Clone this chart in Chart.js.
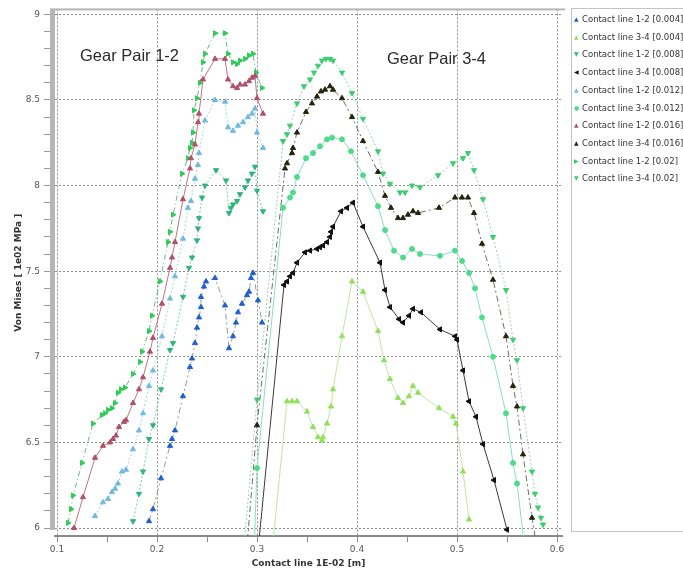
<!DOCTYPE html>
<html>
<head>
<meta charset="utf-8">
<title>Von Mises along contact line</title>
<script src="https://cdn.jsdelivr.net/npm/chart.js@4.4.0/dist/chart.umd.min.js"></script>
<style>
  html, body { margin: 0; padding: 0; background: #fff; }
  #wrap { position: relative; width: 683px; height: 574px; overflow: hidden; }
  #chart { position: absolute; left: 0; top: 0; }
  .note { position: absolute; font: 16.5px "Liberation Sans", Arial, sans-serif; color: #2a2a2a; white-space: nowrap; line-height: 18px; }
  #legend { position: absolute; left: 571px; top: 8px; width: 120px; height: 524px; border: 1px solid #c4c4c4; box-sizing: border-box; }
  #legend div { position: absolute; left: 2px; font: 8.5px "DejaVu Sans", sans-serif; color: #333; white-space: nowrap; line-height: 10px; }
  #legend span { display: inline-block; width: 8px; font-size: 6px; vertical-align: 1px; }
</style>
</head>
<body>
<div id="wrap">
  <canvas id="chart" width="683" height="574"></canvas>
  <div class="note" style="left:80px; top:46px;">Gear Pair 1-2</div>
  <div class="note" style="left:387px; top:49px;">Gear Pair 3-4</div>
  <div id="legend"></div>
</div>
<script>
// axis ticks
var xMajorTicks = [0.1, 0.2, 0.3, 0.4, 0.5, 0.6];
var xTickLabels = ['0.1', '0.2', '0.3', '0.4', '0.5', '0.6'];
var xMinorTicks = [0.15, 0.25, 0.35, 0.45, 0.55];
var yMajorTicks = [6, 6.5, 7, 7.5, 8, 8.5, 9];
var yTickLabels = ['6', '6.5', '7', '7.5', '8', '8.5', '9'];
var yMinorTicks = [6.1, 6.2, 6.3, 6.4, 6.6, 6.7, 6.8, 6.9, 7.1, 7.2, 7.3, 7.4, 7.6, 7.7, 7.8, 7.9,
                   8.1, 8.2, 8.3, 8.4, 8.6, 8.7, 8.8, 8.9];

// series (contact line position, von Mises)
var x12_004 = [0.192,0.196,0.204,0.213,0.215,0.218,0.226,0.233,0.235,0.238,0.240,0.242,0.244,0.244,0.247,0.249,0.258,0.268,0.272,0.276,0.279,0.281,0.285,0.290,0.292,0.294,0.296,0.301,0.305];
var y12_004 = [6.04,6.11,6.29,6.48,6.52,6.57,6.77,6.94,6.99,7.08,7.17,7.23,7.29,7.35,7.41,7.44,7.46,7.30,7.05,7.12,7.20,7.26,7.31,7.36,7.38,7.46,7.49,7.33,7.20];

var x34_004 = [0.316,0.330,0.335,0.340,0.350,0.356,0.361,0.365,0.366,0.370,0.374,0.376,0.385,0.395,0.406,0.421,0.427,0.433,0.441,0.446,0.452,0.456,0.461,0.482,0.496,0.499,0.506,0.512];
var y34_004 = [5.92,6.74,6.74,6.74,6.68,6.59,6.53,6.51,6.53,6.61,6.71,6.81,7.12,7.44,7.38,7.15,6.98,6.87,6.76,6.73,6.77,6.83,6.79,6.70,6.65,6.61,6.33,6.05];

var x12_008 = [0.176,0.182,0.186,0.192,0.196,0.204,0.213,0.216,0.226,0.232,0.235,0.240,0.241,0.242,0.245,0.248,0.259,0.269,0.272,0.274,0.276,0.280,0.283,0.288,0.291,0.295,0.298,0.300,0.306];
var y12_008 = [6.04,6.20,6.33,6.52,6.60,6.81,7.04,7.08,7.35,7.52,7.58,7.68,7.75,7.81,7.93,8.00,8.09,8.03,7.84,7.87,7.89,7.91,7.95,7.99,8.03,8.07,8.11,7.97,7.85];

var x34_008 = [0.3015,0.327,0.330,0.333,0.336,0.340,0.348,0.353,0.360,0.363,0.366,0.370,0.373,0.374,0.376,0.384,0.390,0.396,0.406,0.423,0.428,0.433,0.442,0.446,0.452,0.456,0.464,0.483,0.498,0.500,0.506,0.512,0.519,0.526,0.537,0.550];
var y34_008 = [5.90,7.42,7.44,7.47,7.49,7.55,7.61,7.62,7.63,7.64,7.65,7.67,7.70,7.73,7.76,7.85,7.87,7.90,7.76,7.55,7.39,7.29,7.22,7.20,7.24,7.28,7.26,7.16,7.12,7.10,6.92,6.74,6.65,6.49,6.28,5.99];

var x12_012 = [0.138,0.146,0.151,0.155,0.158,0.161,0.165,0.169,0.176,0.182,0.186,0.192,0.196,0.205,0.213,0.218,0.226,0.231,0.234,0.238,0.241,0.242,0.248,0.258,0.268,0.271,0.276,0.281,0.286,0.291,0.295,0.298,0.300,0.306];
var y12_012 = [6.07,6.15,6.17,6.21,6.23,6.26,6.33,6.34,6.46,6.57,6.67,6.83,6.92,7.12,7.34,7.47,7.69,7.87,7.91,8.04,8.12,8.19,8.38,8.50,8.49,8.34,8.32,8.35,8.37,8.40,8.42,8.45,8.31,8.22];

var x34_012 = [0.2975,0.300,0.326,0.333,0.336,0.340,0.349,0.356,0.363,0.370,0.375,0.385,0.394,0.406,0.421,0.428,0.437,0.446,0.455,0.463,0.483,0.498,0.505,0.512,0.518,0.525,0.536,0.549,0.556,0.560,0.567];
var y34_012 = [5.93,6.35,7.87,7.93,7.96,8.05,8.16,8.19,8.23,8.27,8.28,8.27,8.20,8.06,7.88,7.74,7.62,7.58,7.63,7.60,7.59,7.62,7.56,7.49,7.40,7.23,7.00,6.67,6.38,6.26,5.92];

var x12_016 = [0.117,0.126,0.138,0.146,0.153,0.156,0.159,0.162,0.167,0.169,0.176,0.182,0.186,0.193,0.196,0.205,0.213,0.215,0.218,0.226,0.233,0.234,0.238,0.241,0.242,0.246,0.258,0.268,0.271,0.276,0.280,0.283,0.288,0.292,0.295,0.298,0.300,0.306];
var y12_016 = [6.00,6.18,6.41,6.48,6.50,6.52,6.54,6.59,6.62,6.63,6.73,6.81,6.88,7.03,7.11,7.31,7.52,7.58,7.67,7.92,8.10,8.16,8.24,8.37,8.42,8.62,8.74,8.74,8.62,8.58,8.57,8.59,8.59,8.61,8.63,8.64,8.51,8.42];

var x34_016 = [0.2905,0.300,0.328,0.330,0.335,0.336,0.340,0.349,0.355,0.360,0.364,0.368,0.373,0.376,0.385,0.395,0.406,0.421,0.428,0.434,0.441,0.446,0.451,0.456,0.461,0.482,0.498,0.505,0.511,0.517,0.525,0.536,0.549,0.556,0.560,0.566,0.575,0.579];
var y34_016 = [5.93,6.60,8.10,8.13,8.19,8.22,8.31,8.43,8.48,8.52,8.55,8.56,8.58,8.56,8.51,8.40,8.26,8.08,7.94,7.87,7.81,7.81,7.83,7.85,7.84,7.87,7.93,7.93,7.93,7.84,7.66,7.45,7.12,6.83,6.71,6.43,6.06,5.92];

var x12_020 = [0.111,0.114,0.116,0.125,0.136,0.145,0.148,0.151,0.155,0.158,0.161,0.164,0.168,0.176,0.183,0.185,0.192,0.195,0.203,0.211,0.213,0.216,0.225,0.231,0.233,0.235,0.236,0.237,0.240,0.243,0.246,0.248,0.258,0.268,0.271,0.276,0.280,0.283,0.288,0.292,0.296,0.299,0.305];
var y12_020 = [6.03,6.11,6.19,6.38,6.61,6.66,6.67,6.69,6.70,6.73,6.79,6.81,6.82,6.90,6.97,7.03,7.15,7.24,7.44,7.67,7.73,7.83,8.07,8.16,8.22,8.25,8.31,8.44,8.51,8.60,8.72,8.77,8.89,8.89,8.77,8.72,8.71,8.73,8.74,8.76,8.77,8.66,8.57];

var x34_020 = [0.2875,0.300,0.326,0.330,0.333,0.340,0.347,0.353,0.357,0.361,0.365,0.369,0.373,0.376,0.385,0.395,0.406,0.421,0.426,0.433,0.443,0.448,0.455,0.463,0.481,0.496,0.506,0.511,0.517,0.526,0.536,0.549,0.556,0.560,0.566,0.575,0.578,0.581,0.584,0.586];
var y34_020 = [5.93,6.75,8.26,8.30,8.35,8.48,8.58,8.62,8.66,8.70,8.73,8.74,8.74,8.73,8.66,8.54,8.39,8.20,8.07,8.01,7.96,7.96,8.00,7.99,8.06,8.13,8.16,8.19,8.09,7.92,7.70,7.39,7.10,6.98,6.70,6.33,6.20,6.12,6.06,6.02];

var seriesLabels = [
    'Contact line 1-2 [0.004]', 'Contact line 3-4 [0.004]',
    'Contact line 1-2 [0.008]', 'Contact line 3-4 [0.008]',
    'Contact line 1-2 [0.012]', 'Contact line 3-4 [0.012]',
    'Contact line 1-2 [0.016]', 'Contact line 3-4 [0.016]',
    'Contact line 1-2 [0.02]',  'Contact line 3-4 [0.02]'
];

function pts(xs, ys) {
    return xs.map(function(x, i) { return {x: x, y: ys[i]}; });
}

// marker + line look per series
var styles = [
    {data: pts(x12_004, y12_004), marker: '#1e5fcc', line: '#9a9a9a', dash: [6, 3, 2, 3], shape: 'triangle', rot: 0,   glyph: '\u25B2'},
    {data: pts(x34_004, y34_004), marker: '#8fe05a', line: '#bfe6a6', dash: [],           shape: 'triangle', rot: 0,   glyph: '\u25B2'},
    {data: pts(x12_008, y12_008), marker: '#2db67a', line: '#7cc8b4', dash: [2, 2],       shape: 'triangle', rot: 180, glyph: '\u25BC'},
    {data: pts(x34_008, y34_008), marker: '#111111', line: '#3a3a3a', dash: [],           shape: 'triangle', rot: -90, glyph: '\u25C0'},
    {data: pts(x12_012, y12_012), marker: '#72b9e2', line: '#a4d0ea', dash: [2, 2],       shape: 'triangle', rot: 0,   glyph: '\u25B2'},
    {data: pts(x34_012, y34_012), marker: '#4fdc8a', line: '#8adcca', dash: [],           shape: 'circle',   rot: 0,   glyph: '\u25CF'},
    {data: pts(x12_016, y12_016), marker: '#b0506a', line: '#be7484', dash: [],           shape: 'triangle', rot: 0,   glyph: '\u25B2'},
    {data: pts(x34_016, y34_016), marker: '#23230f', line: '#6e6e60', dash: [6, 3, 2, 3], shape: 'triangle', rot: 0,   glyph: '\u25B2'},
    {data: pts(x12_020, y12_020), marker: '#2fcc58', line: '#5fb88a', dash: [5, 3, 1, 3], shape: 'triangle', rot: 90,  glyph: '\u25B6'},
    {data: pts(x34_020, y34_020), marker: '#3dcc6e', line: '#9ccfb8', dash: [2, 2],       shape: 'triangle', rot: 180, glyph: '\u25BC'}
];

var datasets = styles.map(function(s, i) {
    return {
        label: seriesLabels[i],
        data: s.data,
        showLine: true,
        borderColor: s.line,
        borderWidth: 1,
        borderDash: s.dash,
        pointStyle: s.shape,
        pointRotation: s.rot,
        pointBackgroundColor: s.marker,
        pointBorderColor: s.marker,
        pointBorderWidth: 1,
        pointRadius: function(c) { return c.raw && c.raw.y < 5.97 ? 0 : (s.shape === 'circle' ? 2.5 : 3); },
        tension: 0
    };
});

// legend box on the right
var legendEl = document.getElementById('legend');
styles.forEach(function(s, i) {
    var row = document.createElement('div');
    row.style.top = (5 + i * 17.7) + 'px';
    row.innerHTML = '<span style="color:' + s.marker + '">' + s.glyph + '</span>' + seriesLabels[i];
    legendEl.appendChild(row);
});

var framePlugin = {
    id: 'frame',
    afterDraw: function(chart) {
        var ctx = chart.ctx, a = chart.chartArea;
        ctx.save();
        ctx.fillStyle = '#b6b6b6';
        ctx.fillRect(a.left - 5, a.top, 5, a.bottom - a.top - 6);
        ctx.fillRect(a.left - 5, a.top - 1, a.right - a.left + 8, 2);
        ctx.restore();
    }
};

var ctx = document.getElementById('chart').getContext('2d');
var chart = new Chart(ctx, {
    type: 'scatter',
    data: { datasets: datasets },
    plugins: [framePlugin],
    options: {
        responsive: false,
        animation: false,
        layout: { padding: { top: 8, right: 121, bottom: 0, left: 0 } },
        plugins: { legend: { display: false }, tooltip: { enabled: false } },
        scales: {
            x: {
                type: 'linear',
                min: 0.098,
                max: 0.605,
                afterFit: function(s) { s.height = 38; },
                afterBuildTicks: function(s) {
                    s.ticks = xMajorTicks.concat(xMinorTicks).sort(function(a, b) { return a - b; })
                        .map(function(v) { return {value: v}; });
                },
                ticks: {
                    autoSkip: false,
                    maxRotation: 0,
                    padding: 2,
                    color: '#555',
                    font: { family: 'DejaVu Sans', size: 9 },
                    callback: function(v) {
                        var k = xMajorTicks.indexOf(v);
                        return k < 0 ? '' : xTickLabels[k];
                    }
                },
                grid: {
                    color: function(c) { return c.tick && xMajorTicks.indexOf(c.tick.value) >= 0 ? '#8c8c8c' : 'rgba(0,0,0,0)'; },
                    tickColor: '#8a8a8a',
                    tickLength: 6
                },
                border: { display: true, color: '#8a8a8a', width: 2, dash: [2, 2] },
                title: {
                    display: true,
                    text: 'Contact line 1E-02 [m]',
                    color: '#333',
                    font: { family: 'DejaVu Sans', size: 9, weight: 'bold' },
                    padding: { top: 0, bottom: 5 }
                }
            },
            y: {
                type: 'linear',
                min: 5.9534,
                max: 9.029,
                afterFit: function(s) { s.width = 55; },
                afterBuildTicks: function(s) {
                    s.ticks = yMajorTicks.concat(yMinorTicks).sort(function(a, b) { return a - b; })
                        .map(function(v) { return {value: v}; });
                },
                ticks: {
                    autoSkip: false,
                    padding: 4,
                    color: '#555',
                    font: { family: 'DejaVu Sans', size: 9 },
                    callback: function(v) {
                        var k = yMajorTicks.indexOf(v);
                        return k < 0 ? '' : yTickLabels[k];
                    }
                },
                grid: {
                    color: function(c) { return c.tick && yMajorTicks.indexOf(c.tick.value) >= 0 ? '#8c8c8c' : 'rgba(0,0,0,0)'; },
                    tickColor: '#999',
                    tickLength: 11
                },
                border: { display: false, dash: [2, 2] },
                title: {
                    display: true,
                    text: 'Von Mises [ 1e02 MPa ]',
                    color: '#333',
                    font: { family: 'DejaVu Sans', size: 9, weight: 'bold' },
                    padding: { top: 13, bottom: 0 }
                }
            }
        }
    }
});
</script>
</body>
</html>
